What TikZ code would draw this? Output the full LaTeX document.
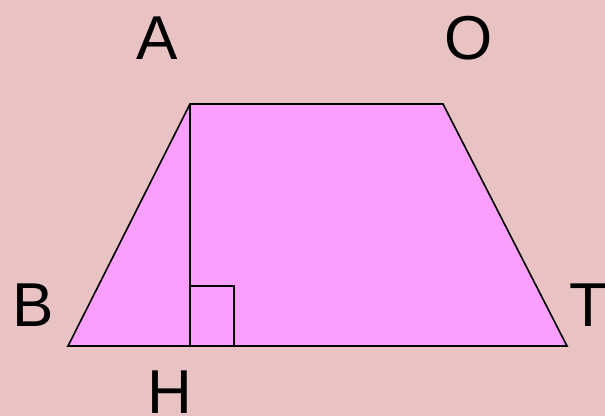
\documentclass[tikz,border=0pt]{standalone}
\usepackage{fontspec}
\setmainfont{Liberation Sans}
\definecolor{bgpink}{HTML}{E9C3C3}
\definecolor{trapfill}{HTML}{FA9EFF}
\begin{document}
\begin{tikzpicture}[x=1pt,y=-1pt,
  lbl/.style={inner sep=0pt,font=\fontsize{62}{62}\selectfont},
  edge/.style={draw=black,line width=1.6pt,line join=miter}]
\fill[bgpink] (0,0) rectangle (605,416);
\useasboundingbox (0,0) rectangle (605,416);
\coordinate (A) at (190,104);
\coordinate (O) at (443,104);
\coordinate (T) at (567,346);
\coordinate (B) at (68,346);
\coordinate (H) at (190,346);
\coordinate (S1) at (190,286);
\coordinate (S2) at (234,286);
\coordinate (S3) at (234,346);
\fill[trapfill] (A) -- (O) -- (T) -- (B) -- cycle;
\draw[edge] (A) -- (O) -- (T) -- (B) -- cycle;
\draw[edge] (A) -- (H);
\draw[edge] (S1) -- (S2) -- (S3);
\node[lbl] (lA) at (157,38) {A};
\node[lbl] (lO) at (469,38) {O};
\node[lbl] (lB) at (33,305) {B};
\node[lbl] (lT) at (588,305) {T};
\node[lbl] (lH) at (170,392) {H};
\end{tikzpicture}
\end{document}
